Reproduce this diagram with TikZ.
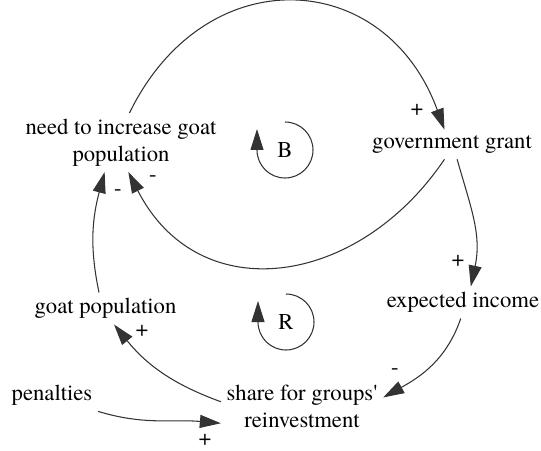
\documentclass[tikz,border=0pt]{standalone}
\usepackage{fontspec}
\newfontfamily\cldfont{texgyretermes-regular.otf}
\usetikzlibrary{arrows.meta}

\begin{document}
\begin{tikzpicture}[>={Triangle[length=4.2mm,width=2.6mm]},every node/.style={font=\cldfont\fontsize{12.9}{15.4}\selectfont},line width=.6pt,
  var/.style={align=center,inner sep=3pt},
  sign/.style={inner sep=0pt},
  link/.style={->,black!80,fill=none}]
\useasboundingbox (0,0) rectangle (10.82,9);
\node[var] (need) at (2.42,6.15) {need to increase goat\\population};
\node[var] (grant) at (9.04,6.11) {government grant};
\node[var] (income) at (9.26,2.95) {expected income};
\node[var] (goatpop) at (2.11,2.83) {goat population};
\node[var] (share) at (6.04,0.88) {share for groups'\\reinvestment};
\node[var] (penalties) at (1.04,1.09) {penalties};
\node (B) at (5.70,6.00) {B};
\node (R) at (5.72,2.56) {R};
% loops
\draw[link] ([yshift=.56cm]B.center) arc[start angle=90,end angle=-180,radius=.56] -- ++(0,.42);
\draw[link] ([yshift=.56cm]R.center) arc[start angle=90,end angle=-180,radius=.56] -- ++(0,.42);
% links
\draw[link] (need.74) to[out=64,in=110,looseness=1.4] (grant.117);
\draw[link] (grant.-117) to[out=-124,in=-63,looseness=1.25] (need.-76);
\draw[link] (grant.-71) to[out=-74,in=78,looseness=1.05] (income.64);
\draw[link] (income.-98) to[out=-109,in=29] (share.6);
\draw[link] (share.177) to[out=160,in=-51] (goatpop.-62);
\draw[link] (goatpop.112) to[out=102,in=-105] (need.-119);
\draw[link] (penalties.-19) to[out=-17,in=175] (share.-168);
% signs
\node[sign] at (8.34,6.80) {+};
\node[sign] at (3.06,5.42) {-};
\node[sign] at (2.36,5.14) {-};
\node[sign] at (9.16,3.78) {+};
\node[sign] at (7.90,1.56) {-};
\node[sign] at (2.84,2.38) {+};
\node[sign] at (4.10,0.20) {+};
\end{tikzpicture}
\end{document}
